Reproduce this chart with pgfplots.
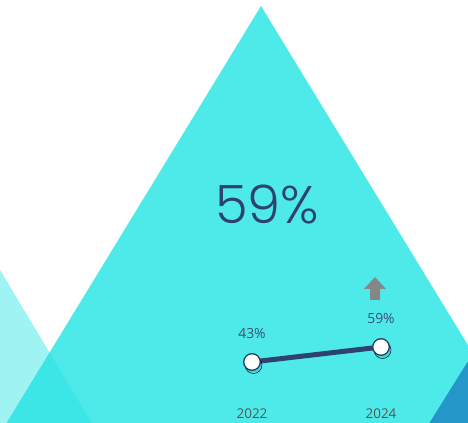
\documentclass[border=0pt]{standalone}
\usepackage{pgfplots}
\pgfplotsset{compat=1.18}
\usepackage{fontspec}
\setmainfont{Open Sans}
\newfontfamily\bigfont{Poppins Light}
\definecolor{maincyan}{RGB}{78,234,234}
\definecolor{lightc}{RGB}{37,227,227}
\definecolor{darkblue}{RGB}{36,150,200}
\definecolor{navy}{RGB}{46,66,110}
\definecolor{labc}{RGB}{62,78,112}
\definecolor{yearc}{RGB}{85,85,85}
\begin{document}
\begin{tikzpicture}
\path[use as bounding box] (0,0) rectangle (468bp,423bp);
\begin{axis}[
  at={(0,0)}, anchor=south west,
  scale only axis, width=468bp, height=423bp,
  xmin=0, xmax=468, ymin=0, ymax=423,
  hide axis, clip=true,
]
% main triangle
\addplot[fill=maincyan, draw=none] coordinates {(261,417) (-24,-50) (546,-50)} -- cycle;
% light left triangle (translucent)
\addplot[fill=lightc, fill opacity=0.435, draw=none] coordinates {(-100,320) (120,-47) (-400,-47)} -- cycle;
% dark blue triangle
\addplot[fill=darkblue, draw=none] coordinates {(500,113) (400,-47) (600,-47)} -- cycle;
% arrow icon
\addplot[fill=gray!95, draw=none] coordinates {(375,146) (386,134) (380,134) (380,123) (370,123) (370,134) (364,134)} -- cycle;
\node[font=\bigfont\fontsize{53}{56}\selectfont, text=navy, anchor=center] at (axis cs:267,218) {59\%};
\end{axis}
\begin{axis}[
  at={(252bp,61bp)}, anchor=south west,
  scale only axis, width=129bp, height=15bp,
  xmin=2022, xmax=2024, ymin=43, ymax=59,
  axis line style={draw=none},
  ytick=\empty, xtick={2022,2024},
  xticklabels={2022,2024},
  major tick length=0pt,
  xticklabel shift=43bp,
  /pgf/number format/assume math mode=true,
  xticklabel style={font=\fontsize{13.5}{15}\selectfont, text=yearc},
  clip=false,
]
\addplot[draw=none, mark=*, mark size=8.5bp, mark options={fill=black, fill opacity=0.08, draw=none, xshift=1.5bp, yshift=-3bp}] coordinates {(2022,43) (2024,59)};
\addplot[navy, line width=5bp, mark=*, mark size=8.3bp,
  mark options={fill=white, draw=navy!90!black, line width=1.3bp},
  nodes near coords={\pgfmathprintnumber{\pgfplotspointmeta}\%},
  point meta=explicit,
  every node near coord/.append style={font=\fontsize{14}{16}\selectfont, text=labc, yshift=19bp, anchor=south},
] coordinates {(2022,43) [43] (2024,59) [59]};
\end{axis}
\end{tikzpicture}
\end{document}
